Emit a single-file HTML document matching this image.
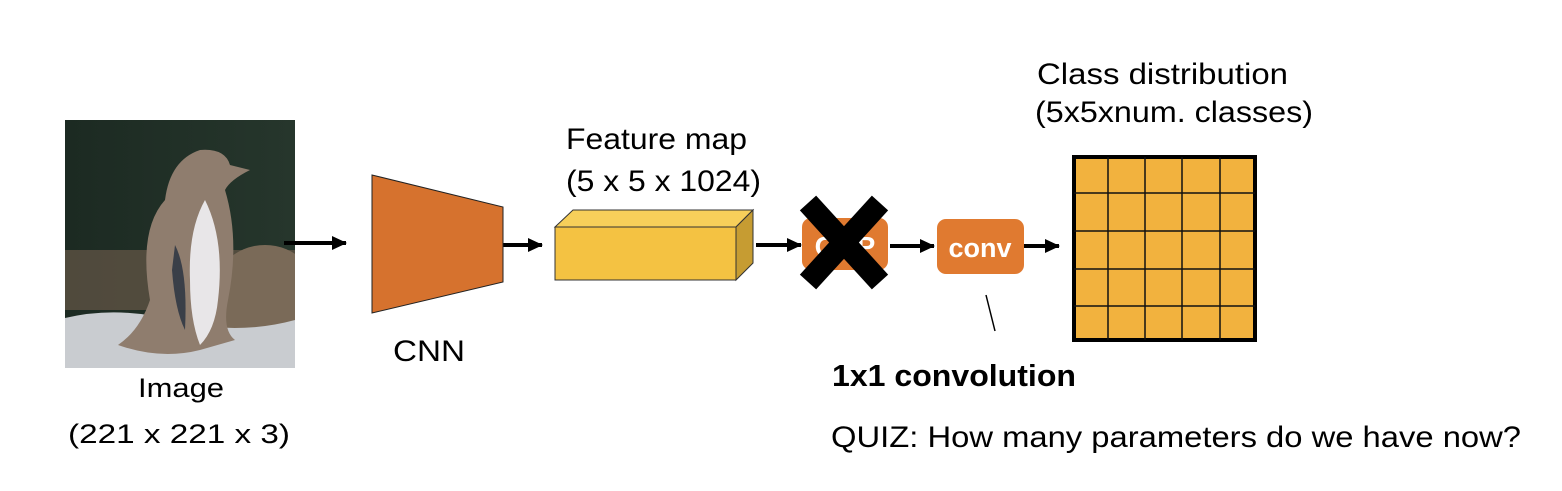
<!DOCTYPE html>
<html><head><meta charset="utf-8"><style>
body{margin:0;background:#fff}
svg text{font-family:"Liberation Sans",Arial,sans-serif;fill:#000}
</style></head><body>
<svg width="1562" height="486" viewBox="0 0 1562 486" xmlns="http://www.w3.org/2000/svg">
<defs>
<marker id="ah" markerWidth="16" markerHeight="14" refX="14" refY="7" orient="auto" markerUnits="userSpaceOnUse">
<path d="M0,0 L15,7 L0,14 Z" fill="#000"/>
</marker>
<linearGradient id="wall" x1="0" x2="1"><stop offset="0" stop-color="#1c2a22"/><stop offset="1" stop-color="#26362c"/></linearGradient>
<clipPath id="ic"><rect x="65" y="120" width="230" height="248"/></clipPath>
</defs>
<g clip-path="url(#ic)">
<rect x="65" y="120" width="230" height="248" fill="url(#wall)"/>
<rect x="65" y="250" width="230" height="60" fill="#5e5244" opacity="0.8"/>
<ellipse cx="265" cy="300" rx="55" ry="55" fill="#7a6a58"/>
<path d="M65,318 Q120,305 180,322 Q240,335 295,320 L295,368 L65,368 Z" fill="#c9ccd0"/>
<path d="M118,345 Q140,330 150,300 Q138,230 165,200 Q170,160 200,150 Q225,148 230,165 L250,170 Q230,180 225,190 Q240,240 228,300 Q222,330 235,340 L200,350 Q160,360 118,345 Z" fill="#8f7d6e"/>
<path d="M205,200 Q225,240 218,300 Q215,330 200,345 Q190,320 190,280 Q188,230 205,200 Z" fill="#e8e6e8"/>
<path d="M175,245 Q188,270 185,330 Q175,310 172,270 Z" fill="#3a3f48"/>
</g>
<g stroke="#000" stroke-width="4" fill="none">
<line x1="284" y1="243" x2="346" y2="243" marker-end="url(#ah)"/>
<line x1="503" y1="245" x2="542" y2="245" marker-end="url(#ah)"/>
<line x1="756" y1="245" x2="801" y2="245" marker-end="url(#ah)"/>
<line x1="890" y1="246" x2="934" y2="246" marker-end="url(#ah)"/>
<line x1="1024" y1="246" x2="1059" y2="246" marker-end="url(#ah)"/>
</g>
<polygon points="372,175 503,207 503,282 372,313" fill="#d6722e" stroke="#222" stroke-width="1"/>
<polygon points="555,227 573,210 753,210 736,227" fill="#f7cf5a" stroke="#333" stroke-width="1"/>
<polygon points="736,227 753,210 753,263 736,280" fill="#c69c32" stroke="#333" stroke-width="1"/>
<rect x="555" y="227" width="181" height="53" fill="#f4c242" stroke="#333" stroke-width="1"/>
<rect x="802" y="218" width="86" height="52" rx="9" fill="#e07a30"/>
<text x="845" y="256" font-size="28" font-weight="bold" text-anchor="middle" style="fill:#fff">GAP</text>
<g stroke="#000" stroke-width="22">
<line x1="808" y1="203" x2="880" y2="282"/>
<line x1="880" y1="203" x2="808" y2="282"/>
</g>
<rect x="937" y="219" width="87" height="55" rx="9" fill="#e07a30"/>
<text x="980" y="257" font-size="27" font-weight="bold" text-anchor="middle" style="fill:#fff">conv</text>
<line x1="986" y1="295" x2="995" y2="331" stroke="#000" stroke-width="1.5"/>
<rect x="1074" y="157" width="181" height="183" fill="#f2b23e" stroke="#000" stroke-width="4"/>
<g stroke="#111" stroke-width="1.5">
<line x1="1108" y1="157" x2="1108" y2="340"/><line x1="1145" y1="157" x2="1145" y2="340"/>
<line x1="1182" y1="157" x2="1182" y2="340"/><line x1="1220" y1="157" x2="1220" y2="340"/>
<line x1="1074" y1="193" x2="1255" y2="193"/><line x1="1074" y1="231" x2="1255" y2="231"/>
<line x1="1074" y1="269" x2="1255" y2="269"/><line x1="1074" y1="306" x2="1255" y2="306"/>
</g>
<text x="1037" y="84" font-size="30" textLength="251" lengthAdjust="spacingAndGlyphs">Class distribution</text>
<text x="1035" y="122" font-size="30" textLength="278" lengthAdjust="spacingAndGlyphs">(5x5xnum. classes)</text>
<text x="566" y="149" font-size="30" textLength="181" lengthAdjust="spacingAndGlyphs">Feature map</text>
<text x="566" y="191" font-size="30" textLength="195" lengthAdjust="spacingAndGlyphs">(5 x 5 x 1024)</text>
<text x="393" y="361" font-size="30" textLength="72" lengthAdjust="spacingAndGlyphs">CNN</text>
<text x="138" y="397" font-size="27" textLength="86" lengthAdjust="spacingAndGlyphs">Image</text>
<text x="68" y="443" font-size="27" textLength="222" lengthAdjust="spacingAndGlyphs">(221 x 221 x 3)</text>
<text x="832" y="386" font-size="31" font-weight="bold" textLength="244" lengthAdjust="spacingAndGlyphs">1x1 convolution</text>
<text x="831" y="447" font-size="30" textLength="690" lengthAdjust="spacingAndGlyphs">QUIZ: How many parameters do we have now?</text>
</svg>
</body></html>
